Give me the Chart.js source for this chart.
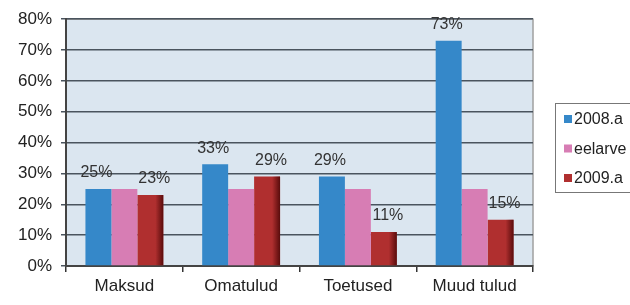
<!DOCTYPE html>
<html><head><meta charset="utf-8">
<script src="https://cdn.jsdelivr.net/npm/chart.js@4/dist/chart.umd.min.js"></script>
<style>html,body{margin:0;padding:0;background:#fff;overflow:hidden}#wrap{width:630px;height:305px}</style>
</head><body><div id="wrap"><canvas id="c" width="630" height="305"></canvas></div>
<script>
const categories = ['Maksud', 'Omatulud', 'Toetused', 'Muud tulud'];
const seriesNames = ['2008.a', 'eelarve', '2009.a'];
const s2008 = [25, 33, 29, 73];
const sEelarve = [25, 25, 25, 25];
const s2009 = [23, 29, 11, 15];
const yTicks = [0, 10, 20, 30, 40, 50, 60, 70, 80];
const labelledSeries = [0, 2];

const colors = ['#3588c9', '#d77db4', '#b02f2f'];
const FONT = '"Liberation Sans", Arial, sans-serif';

const bgPlugin = {
  id: 'bg',
  beforeDraw(chart) {
    const {ctx, chartArea: a} = chart;
    ctx.save();
    ctx.fillStyle = '#dbe6f0';
    ctx.fillRect(a.left, a.top, a.right - a.left, a.bottom - a.top);
    ctx.strokeStyle = '#a0a0a0';
    ctx.lineWidth = 1.5;
    ctx.strokeRect(a.left, a.top, a.right - a.left, a.bottom - a.top);
    ctx.restore();
  },
  afterDatasetsDraw(chart) {
    const {ctx} = chart;
    ctx.save();
    // shading on the dark red bars
    chart.getDatasetMeta(2).data.forEach(bar => {
      const r = bar.x + bar.width / 2;
      const g = ctx.createLinearGradient(r - 8, 0, r, 0);
      g.addColorStop(0, 'rgba(60,0,0,0)');
      g.addColorStop(1, 'rgba(60,0,0,0.75)');
      ctx.fillStyle = g;
      ctx.fillRect(r - 8, bar.y, 8, bar.base - bar.y);
    });
    ctx.font = '16px ' + FONT;
    ctx.fillStyle = '#333';
    ctx.textAlign = 'center';
    ctx.textBaseline = 'middle';
    labelledSeries.forEach(di => {
      const meta = chart.getDatasetMeta(di);
      const dx = di === 0 ? -2 : 4;
      meta.data.forEach((bar, i) => {
        ctx.fillText(chart.data.datasets[di].data[i] + '%', bar.x + dx, bar.y - 16);
      });
    });
    // legend
    const lx = 555, ly = 103, lw = 90, lh = 89;
    ctx.fillStyle = '#fff';
    ctx.fillRect(lx, ly, lw, lh);
    ctx.strokeStyle = '#777';
    ctx.lineWidth = 1;
    ctx.strokeRect(lx + 0.5, ly + 0.5, lw, lh);
    ctx.font = '16px ' + FONT;
    ctx.textAlign = 'left';
    chart.data.datasets.forEach((ds, i) => {
      const y = 119 + i * 29.5;
      ctx.fillStyle = ds.backgroundColor;
      ctx.fillRect(lx + 9, y - 4, 8, 8);
      ctx.fillStyle = '#222';
      ctx.fillText(ds.label, lx + 19, y + 1);
    });
    ctx.restore();
  }
};

new Chart(document.getElementById('c'), {
  type: 'bar',
  data: {
    labels: categories,
    datasets: [
      {label: seriesNames[0], data: s2008, backgroundColor: colors[0]},
      {label: seriesNames[1], data: sEelarve, backgroundColor: colors[1]},
      {label: seriesNames[2], data: s2009, backgroundColor: colors[2]}
    ]
  },
  options: {
    responsive: false,
    animation: false,
    layout: {padding: {left: 0, top: 19, right: 97, bottom: 0}},
    datasets: {bar: {categoryPercentage: 0.667, barPercentage: 1.0}},
    plugins: {legend: {display: false}, tooltip: {enabled: false}},
    scales: {
      x: {
        grid: {display: true, drawOnChartArea: false, drawTicks: true, tickLength: 6, offset: true, color: '#333', lineWidth: 1.5},
        border: {display: true, color: '#444', width: 2},
        ticks: {color: '#222', font: {family: FONT, size: 17}, padding: 4},
        afterFit(s) { s.height = 39; }
      },
      y: {
        min: 0, max: 80,
        afterBuildTicks(s) { s.ticks = yTicks.map(v => ({value: v})); },
        grid: {color: '#4a545e', lineWidth: 1.5, drawTicks: true, tickLength: 5},
        border: {display: true, color: '#444', width: 2},
        ticks: {color: '#222', font: {family: FONT, size: 17}, padding: 9, callback: v => v + '%'},
        afterFit(s) { s.width = 66; }
      }
    }
  },
  plugins: [bgPlugin]
});
</script></body></html>
